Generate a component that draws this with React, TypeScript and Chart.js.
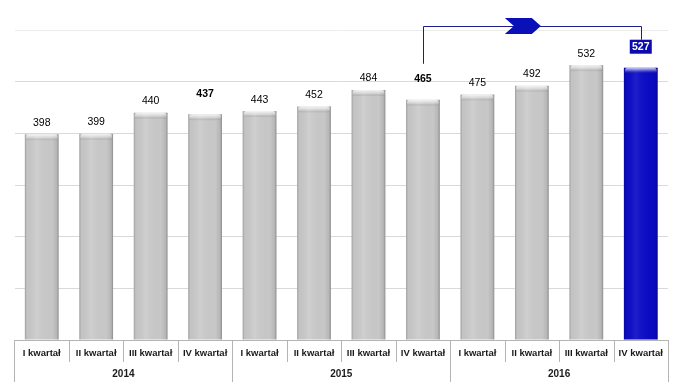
import { useEffect, useRef } from "react";
import { Chart, registerables } from "chart.js";

Chart.register(...registerables);

const quarters = [
  "I kwartał", "II kwartał", "III kwartał", "IV kwartał",
  "I kwartał", "II kwartał", "III kwartał", "IV kwartał",
  "I kwartał", "II kwartał", "III kwartał", "IV kwartał",
];
const years = ["2014", "2015", "2016"];
const values = [398, 399, 440, 437, 443, 452, 484, 465, 475, 492, 532, 527];
const yMax = 600;
const yStep = 100;
const highlightIndex = 11;
const compareFrom = 7;

const FONT = "'Liberation Sans', Arial, sans-serif";
const GREY = "#cbcbcb";
const BLUE = "#0b0bc8";
const NAVY = "#1c1c8a";

const decorPlugin = {
  id: "decor",
  afterDatasetsDraw(chart: any) {
    const ctx: CanvasRenderingContext2D = chart.ctx;
    const meta = chart.getDatasetMeta(0);
    const area = chart.chartArea;
    const xs = chart.scales.x;

    // bar shading
    meta.data.forEach((bar: any) => {
      const { x, y, width, base } = bar.getProps(["x", "y", "width", "base"], true);
      const l = x - width / 2;
      const r = x + width / 2;
      ctx.save();
      const g = ctx.createLinearGradient(l, 0, r, 0);
      g.addColorStop(0, "rgba(0,0,0,0.22)");
      g.addColorStop(0.06, "rgba(0,0,0,0.04)");
      g.addColorStop(0.35, "rgba(255,255,255,0.08)");
      g.addColorStop(0.8, "rgba(0,0,0,0.02)");
      g.addColorStop(0.94, "rgba(0,0,0,0.10)");
      g.addColorStop(1, "rgba(0,0,0,0.30)");
      ctx.fillStyle = g;
      ctx.fillRect(l, y, width, base - y);
      const t = ctx.createLinearGradient(0, y, 0, y + 6);
      t.addColorStop(0, "rgba(255,255,255,0.8)");
      t.addColorStop(0.6, "rgba(255,255,255,0.2)");
      t.addColorStop(1, "rgba(0,0,0,0.06)");
      ctx.fillStyle = t;
      ctx.beginPath();
      ctx.roundRect(l + 1, y, width - 2, 6, [3, 3, 0, 0]);
      ctx.fill();
      ctx.restore();
    });

    // value labels
    const labelY: number[] = [];
    meta.data.forEach((bar: any, i: number) => {
      const { x, y } = bar.getProps(["x", "y"], true);
      const q4 = i % 4 === 3;
      const cy = y - (q4 ? 21 : 12);
      labelY.push(cy);
      ctx.save();
      ctx.textAlign = "center";
      ctx.textBaseline = "middle";
      if (i === highlightIndex) {
        ctx.fillStyle = "#0a0ab0";
        ctx.fillRect(x - 11, cy - 7, 22, 14);
        ctx.fillStyle = "#ffffff";
        ctx.font = `bold 10.5px ${FONT}`;
        ctx.fillText(String(values[i]), x, cy + 0.5);
      } else {
        ctx.fillStyle = "#000000";
        ctx.font = `${q4 ? "bold " : ""}10.5px ${FONT}`;
        ctx.fillText(String(values[i]), x, cy + 0.5);
      }
      ctx.restore();
    });

    // connector + chevron
    const a = meta.data[compareFrom].getProps(["x"], true).x;
    const b = meta.data[highlightIndex].getProps(["x"], true).x;
    const lineY = area.top - 4;
    ctx.save();
    ctx.strokeStyle = NAVY;
    ctx.lineWidth = 1;
    ctx.beginPath();
    ctx.moveTo(Math.round(a) + 0.5, labelY[compareFrom] - 15);
    ctx.lineTo(Math.round(a) + 0.5, Math.round(lineY) + 0.5);
    ctx.lineTo(Math.round(b) + 0.5, Math.round(lineY) + 0.5);
    ctx.lineTo(Math.round(b) + 0.5, labelY[highlightIndex] - 7);
    ctx.stroke();
    const mx = (a + b) / 2 - 9;
    const w = 36, h = 16, n = 9;
    ctx.fillStyle = "#0a10b8";
    ctx.beginPath();
    ctx.moveTo(mx - w / 2, lineY - h / 2);
    ctx.lineTo(mx + w / 2 - n, lineY - h / 2);
    ctx.lineTo(mx + w / 2, lineY);
    ctx.lineTo(mx + w / 2 - n, lineY + h / 2);
    ctx.lineTo(mx - w / 2, lineY + h / 2);
    ctx.lineTo(mx - w / 2 + n, lineY);
    ctx.closePath();
    ctx.fill();
    ctx.restore();

    // x axis: baseline, separators, labels
    const bottom = area.bottom;
    const step = xs.getPixelForValue(1) - xs.getPixelForValue(0);
    ctx.save();
    ctx.strokeStyle = "#b4b4b4";
    ctx.lineWidth = 1;
    ctx.beginPath();
    ctx.moveTo(area.left, Math.round(bottom) + 0.5);
    ctx.lineTo(area.right, Math.round(bottom) + 0.5);
    for (let i = 0; i <= quarters.length; i++) {
      const px = Math.round(xs.getPixelForValue(0) - step / 2 + i * step) + 0.5;
      const long = i % 4 === 0;
      ctx.moveTo(px, bottom);
      ctx.lineTo(px, bottom + (long ? 42 : 22));
    }
    ctx.stroke();
    ctx.fillStyle = "#1a1a1a";
    ctx.textAlign = "center";
    ctx.textBaseline = "middle";
    ctx.font = `bold 9.5px ${FONT}`;
    quarters.forEach((q, i) => {
      ctx.fillText(q, xs.getPixelForValue(i), bottom + 13);
    });
    ctx.font = `bold 10px ${FONT}`;
    years.forEach((yr, j) => {
      const cx = (xs.getPixelForValue(j * 4) + xs.getPixelForValue(j * 4 + 3)) / 2;
      ctx.fillText(yr, cx, bottom + 34);
    });
    ctx.restore();
  },
};

export default function App() {
  const ref = useRef<HTMLCanvasElement | null>(null);
  useEffect(() => {
    if (!ref.current) return;
    const chart = new Chart(ref.current, {
      type: "bar",
      data: {
        labels: quarters,
        datasets: [
          {
            data: values,
            backgroundColor: values.map((_, i) => (i === highlightIndex ? BLUE : GREY)),
            borderWidth: 0,
            barPercentage: 0.62,
            categoryPercentage: 1,
          },
        ],
      },
      options: {
        animation: false,
        responsive: true,
        maintainAspectRatio: false,
        layout: { padding: { top: 22, bottom: 44, left: 6.5, right: 1 } },
        plugins: { legend: { display: false }, tooltip: { enabled: false } },
        scales: {
          x: { display: false },
          y: {
            min: 0,
            max: yMax,
            ticks: { display: false, stepSize: yStep },
            border: { display: false },
            grid: {
              drawTicks: false,
              color: (c: any) => (c.tick && c.tick.value === yMax ? "#ececec" : "#d9d9d9"),
            },
          },
        },
      },
      plugins: [decorPlugin],
    });
    return () => chart.destroy();
  }, []);
  return (
    <div style={{ position: "relative", width: "100%", height: 376 }}>
      <canvas ref={ref} />
    </div>
  );
}
